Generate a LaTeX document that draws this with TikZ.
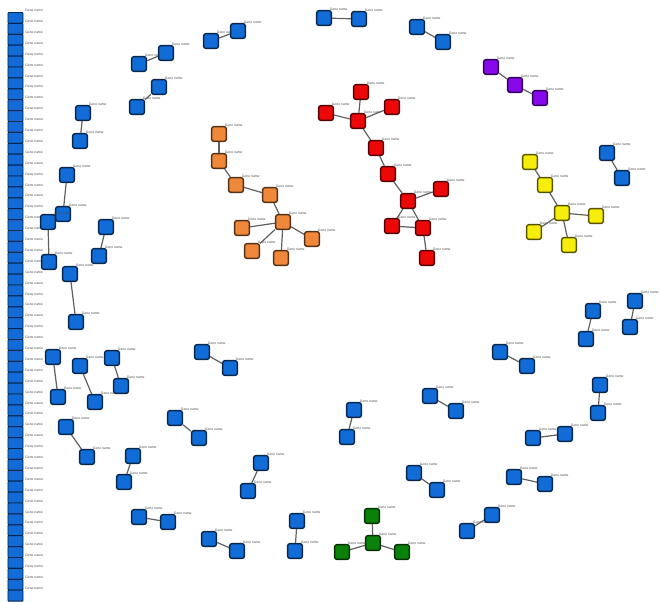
\documentclass[tikz,border=0pt]{standalone}
\usepackage{fontspec}
\setsansfont{Liberation Sans}
\definecolor{nblue}{RGB}{18,108,216}
\definecolor{nred}{RGB}{236,8,8}
\definecolor{norange}{RGB}{240,136,60}
\definecolor{nyellow}{RGB}{246,238,10}
\definecolor{npurple}{RGB}{136,8,236}
\definecolor{ngreen}{RGB}{10,130,10}
\definecolor{edgec}{RGB}{95,95,95}
\begin{document}
\begin{tikzpicture}[x=0.025cm,y=-0.025cm,
  lbltext/.style={font=\fontsize{2.4}{2.8}\sffamily\selectfont, text=black!70, inner sep=0pt},
  nd/.style={draw=#1!35!black, fill=#1, rounded corners=0.06cm, minimum size=0.37cm,
    inner sep=0pt, line width=1pt,
    label={[lbltext, xshift=-0.06cm, yshift=-0.03cm]north east:Gene name}},
  colbox/.style={draw=nblue!35!black, fill=nblue, rounded corners=0.02cm,
    minimum width=0.375cm, minimum height=0.2725cm, inner sep=0pt, line width=0.7pt},
  edge/.style={draw=edgec, line width=0.85pt}]
\useasboundingbox (0,0) rectangle (660,601);
% left column
\foreach \i in {0,...,53} {
  \node[colbox] (c\i) at ({15.5},{12.5+10.9*\i+5.45}) {};
  \node[lbltext, anchor=west] (cl\i) at ({25},{10.5+10.9*\i}) {Gene name};
}
% blue pairs
\node[nd=nblue] (b1) at (211,41) {};
\node[nd=nblue] (b2) at (238,31) {};
\node[nd=nblue] (b3) at (139,64) {};
\node[nd=nblue] (b4) at (166,53) {};
\node[nd=nblue] (b5) at (137,107) {};
\node[nd=nblue] (b6) at (159,87) {};
\node[nd=nblue] (b7) at (83,113) {};
\node[nd=nblue] (b8) at (80,141) {};
\node[nd=nblue] (b9) at (324,18) {};
\node[nd=nblue] (b10) at (359,19) {};
\node[nd=nblue] (b11) at (417,27) {};
\node[nd=nblue] (b12) at (443,42) {};
\node[nd=nblue] (b13) at (607,153) {};
\node[nd=nblue] (b14) at (622,178) {};
\node[nd=nblue] (b15) at (67,175) {};
\node[nd=nblue] (b16) at (63,214) {};
\node[nd=nblue] (b17) at (48,222) {};
\node[nd=nblue] (b18) at (49,262) {};
\node[nd=nblue] (b19) at (106,227) {};
\node[nd=nblue] (b20) at (99,256) {};
\node[nd=nblue] (b21) at (70,274) {};
\node[nd=nblue] (b22) at (76,322) {};
\node[nd=nblue] (b23) at (593,311) {};
\node[nd=nblue] (b24) at (586,339) {};
\node[nd=nblue] (b25) at (635,301) {};
\node[nd=nblue] (b26) at (630,327) {};
\node[nd=nblue] (b27) at (600,385) {};
\node[nd=nblue] (b28) at (598,413) {};
\node[nd=nblue] (b29) at (500,352) {};
\node[nd=nblue] (b30) at (527,366) {};
\node[nd=nblue] (b31) at (202,352) {};
\node[nd=nblue] (b32) at (230,368) {};
\node[nd=nblue] (b33) at (53,357) {};
\node[nd=nblue] (b34) at (58,397) {};
\node[nd=nblue] (b35) at (80,366) {};
\node[nd=nblue] (b36) at (95,402) {};
\node[nd=nblue] (b37) at (112,358) {};
\node[nd=nblue] (b38) at (121,386) {};
\node[nd=nblue] (b39) at (66,427) {};
\node[nd=nblue] (b40) at (87,457) {};
\node[nd=nblue] (b41) at (133,456) {};
\node[nd=nblue] (b42) at (124,482) {};
\node[nd=nblue] (b43) at (430,396) {};
\node[nd=nblue] (b44) at (456,411) {};
\node[nd=nblue] (b45) at (354,410) {};
\node[nd=nblue] (b46) at (347,437) {};
\node[nd=nblue] (b47) at (175,418) {};
\node[nd=nblue] (b48) at (199,438) {};
\node[nd=nblue] (b49) at (533,438) {};
\node[nd=nblue] (b50) at (565,434) {};
\node[nd=nblue] (b51) at (261,463) {};
\node[nd=nblue] (b52) at (248,491) {};
\node[nd=nblue] (b53) at (414,473) {};
\node[nd=nblue] (b54) at (437,490) {};
\node[nd=nblue] (b55) at (514,477) {};
\node[nd=nblue] (b56) at (545,484) {};
\node[nd=nblue] (b57) at (139,517) {};
\node[nd=nblue] (b58) at (168,522) {};
\node[nd=nblue] (b59) at (297,521) {};
\node[nd=nblue] (b60) at (295,551) {};
\node[nd=nblue] (b61) at (467,531) {};
\node[nd=nblue] (b62) at (492,515) {};
\node[nd=nblue] (b63) at (209,539) {};
\node[nd=nblue] (b64) at (237,551) {};
\foreach \a/\b in {1/2,3/4,5/6,7/8,9/10,11/12,13/14,15/16,17/18,19/20,21/22,23/24,25/26,27/28,29/30,31/32,33/34,35/36,37/38,39/40,41/42,43/44,45/46,47/48,49/50,51/52,53/54,55/56,57/58,59/60,61/62,63/64}
  \draw[edge] (b\a) -- (b\b);
% purple
\node[nd=npurple] (p1) at (491,67) {};
\node[nd=npurple] (p2) at (515,85) {};
\node[nd=npurple] (p3) at (540,98) {};
\draw[edge] (p1) -- (p2);
\draw[edge] (p2) -- (p3);
% red
\node[nd=nred] (r1) at (361,92) {};
\node[nd=nred] (r2) at (392,107) {};
\node[nd=nred] (r3) at (326,113) {};
\node[nd=nred] (r4) at (358,121) {};
\node[nd=nred] (r5) at (376,148) {};
\node[nd=nred] (r6) at (388,174) {};
\node[nd=nred] (r7) at (408,201) {};
\node[nd=nred] (r8) at (441,189) {};
\node[nd=nred] (r9) at (392,226) {};
\node[nd=nred] (r10) at (423,228) {};
\node[nd=nred] (r11) at (427,258) {};
\foreach \a/\b in {4/1,4/2,4/3,4/5,5/6,6/7,7/8,7/9,7/10,9/10,10/11}
  \draw[edge] (r\a) -- (r\b);
% orange
\node[nd=norange] (o1) at (219,134) {};
\node[nd=norange] (o2) at (219,161) {};
\node[nd=norange] (o3) at (236,185) {};
\node[nd=norange] (o4) at (270,195) {};
\node[nd=norange] (o5) at (283,222) {};
\node[nd=norange] (o6) at (242,228) {};
\node[nd=norange] (o7) at (312,239) {};
\node[nd=norange] (o8) at (252,251) {};
\node[nd=norange] (o9) at (281,258) {};
\foreach \a/\b in {1/2,2/3,3/4,4/5,5/6,5/7,5/8,5/9}
  \draw[edge] (o\a) -- (o\b);
% yellow
\node[nd=nyellow] (y1) at (530,162) {};
\node[nd=nyellow] (y2) at (545,185) {};
\node[nd=nyellow] (y3) at (562,213) {};
\node[nd=nyellow] (y4) at (596,216) {};
\node[nd=nyellow] (y5) at (534,232) {};
\node[nd=nyellow] (y6) at (569,245) {};
\foreach \a/\b in {1/2,2/3,3/4,3/5,3/6}
  \draw[edge] (y\a) -- (y\b);
% green
\node[nd=ngreen] (g1) at (372,516) {};
\node[nd=ngreen] (g2) at (373,543) {};
\node[nd=ngreen] (g3) at (342,552) {};
\node[nd=ngreen] (g4) at (402,552) {};
\foreach \b in {1,3,4}
  \draw[edge] (g2) -- (g\b);
\end{tikzpicture}
\end{document}
